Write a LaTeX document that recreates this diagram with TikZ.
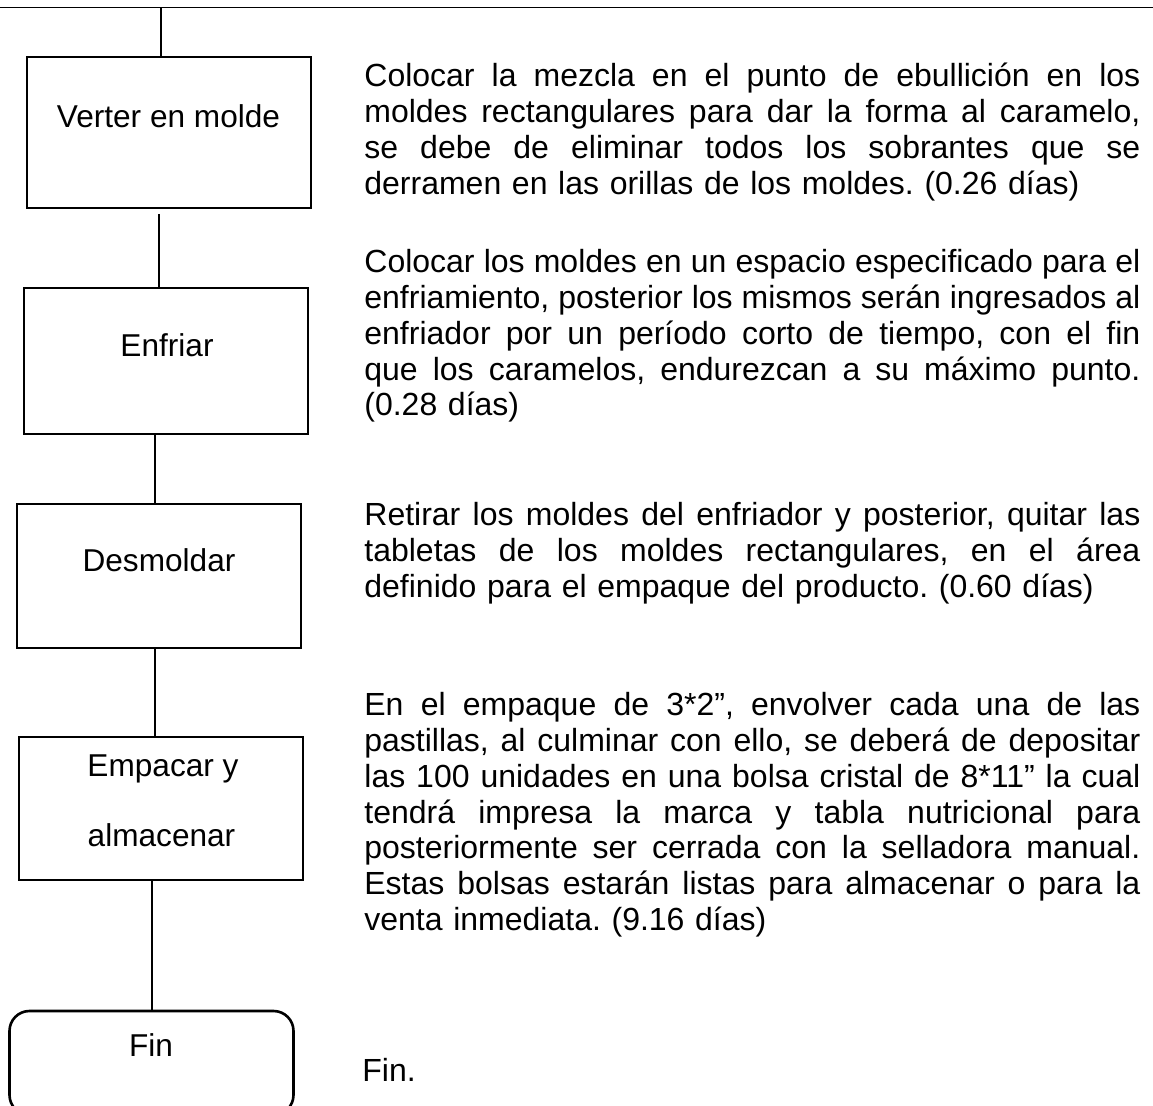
\documentclass[tikz,border=0pt]{standalone}
\usepackage{fontspec}
\setmainfont{Liberation Sans}
\usetikzlibrary{positioning}
\frenchspacing

\newlength\notewidth
\setlength\notewidth{388pt}
\newcommand\jline[1]{\leavevmode\hbox to \notewidth{\spaceskip=\fontdimen2\font plus 1fil minus .3\fontdimen2\font\relax #1}\\}

\tikzset{
  stepbox/.style={draw, line width=1.3pt, inner sep=0pt, minimum width=142pt},
  endbox/.style={stepbox, rounded corners=10pt},
  boxtext/.style={font=\fontsize{15.8}{17}\selectfont, anchor=base, inner sep=0pt},
  notetext/.style={font=\fontsize{16}{17.85}\selectfont, anchor=base west, inner sep=0pt, text width=\notewidth, align=left},
  link/.style={line width=1.3pt}
}

\begin{document}
\begin{tikzpicture}[x=0.5pt, y=-0.5pt]
                \useasboundingbox (0,0) rectangle (1153,1106);
                \draw[line width=0.85pt] (0,7.5) -- (1153,7.5);
                
                \node[stepbox, minimum height=75.5pt] (verter) at (169,132.5) {};
                \node[stepbox, minimum height=73pt] (enfriar) at (166,361) {};
                \node[stepbox, minimum height=72pt] (desmoldar) at (159,576) {};
                \node[stepbox, minimum height=71.5pt] (empacar) at (161,808.5) {};
                \node[endbox, minimum height=52pt] (fin) at (151.5,1063) {};
                
                \node[boxtext] (verterlbl) at (168.5,128) {Verter en molde};
                \node[boxtext] (enfriarlbl) at (167,357) {Enfriar};
                \node[boxtext] (desmoldarlbl) at (159,572) {Desmoldar};
                \node[boxtext] (empacarlbl) at (163,777) {Empacar y};
                \node[boxtext] (almacenarlbl) at (161.5,847) {almacenar};
                \node[boxtext] (finlbl) at (151,1057) {Fin};
                
                \coordinate (c0) at (161,7.5);
                \coordinate (c1) at (159,214);
                \coordinate (c2) at (155,434);
                \coordinate (c3) at (155,648);
                \coordinate (c4) at (152,880);
                \draw[link] (c0) -- (c0 |- verter.north);
                \draw[link] (c1) -- (c1 |- enfriar.north);
                \draw[link] (c2) -- (c2 |- desmoldar.north);
                \draw[link] (c3) -- (c3 |- empacar.north);
                \draw[link] (c4) -- (c4 |- fin.north);
                
                \node[notetext] (verternote) at (364,87) {%
                  \jline{Colocar la mezcla en el punto de ebullición en los}
                  \jline{moldes rectangulares para dar la forma al caramelo,}
                  \jline{se debe de eliminar todos los sobrantes que se}
                  derramen en las orillas de los moldes. (0.26 días)};
                \node[notetext] (enfriarnote) at (364,273) {%
                  \jline{Colocar los moldes en un espacio especificado para el}
                  \jline{enfriamiento, posterior los mismos serán ingresados al}
                  \jline{enfriador por un período corto de tiempo, con el fin}
                  \jline{que los caramelos, endurezcan a su máximo punto.}
                  (0.28 días)};
                \node[notetext] (desmoldarnote) at (364,526) {%
                  \jline{Retirar los moldes del enfriador y posterior, quitar las}
                  \jline{tabletas de los moldes rectangulares, en el área}
                  definido para el empaque del producto. (0.60 días)};
                \node[notetext] (empacarnote) at (364,716) {%
                  \jline{En el empaque de 3*2”, envolver cada una de las}
                  \jline{pastillas, al culminar con ello, se deberá de depositar}
                  \jline{las 100 unidades en una bolsa cristal de 8*11” la cual}
                  \jline{tendrá impresa la marca y tabla nutricional para}
                  \jline{posteriormente ser cerrada con la selladora manual.}
                  \jline{Estas bolsas estarán listas para almacenar o para la}
                  venta inmediata. (9.16 días)};
                \node[notetext] (finnote) at (362,1082) {Fin.};
            \end{tikzpicture}
\end{document}
